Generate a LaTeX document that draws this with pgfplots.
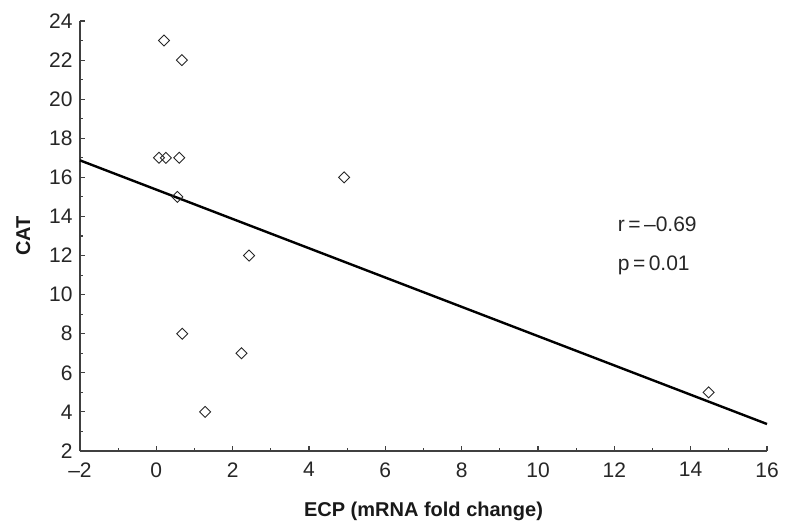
\documentclass[border=0pt]{standalone}
\usepackage{pgfplots}
\pgfplotsset{compat=1.18}
\usepackage{fontspec}
\setmainfont{Liberation Sans}
\begin{document}
\begin{tikzpicture}
\begin{axis}[
    scale only axis,
    width=687pt, height=430pt,
    xmin=-2, xmax=16, ymin=2, ymax=24,
    axis x line*=bottom, axis y line*=left,
    axis line style={black!75, line width=1.1pt},
    xtick={-2,0,...,16},
    xticklabels={\textendash 2,0,2,4,6,8,10,12,14,16},
    ytick={2,4,...,24},
    minor x tick num=1, minor y tick num=1,
    tick align=inside,
    major tick length=5pt, minor tick length=3pt,
    tick style={black!75, line width=1.1pt},
    /pgf/number format/assume math mode=true,
    ticklabel style={font=\fontsize{21}{23}\selectfont, text=black!85},
    xticklabel style={yshift=-8pt},
    yticklabel style={xshift=-4pt},
    xlabel={\textbf{ECP (mRNA fold change)}},
    ylabel={\textbf{CAT}},
    label style={font=\fontsize{20}{22}\selectfont, text=black!90},
    xlabel style={yshift=-18pt},
    ylabel style={yshift=12pt},
    clip=false,
]
\addplot[black, line width=2.4pt] coordinates {(-2,16.87) (16,3.38)};
\addplot[only marks, mark=square, mark size=3.9pt,
    mark options={rotate=45, draw=black!85, fill=white, line width=0.9pt}]
table{%
x y
0.2 23
0.67 22
0.07 17
0.25 17
0.6 17
0.55 15
4.92 16
2.43 12
0.68 8
2.23 7
1.28 4
14.47 5
};
\node[anchor=west, font=\fontsize{21}{23}\selectfont, text=black!85] at (axis cs:12.0,13.6) {r\,=\,\textendash 0.69};
\node[anchor=west, font=\fontsize{21}{23}\selectfont, text=black!85] at (axis cs:12.0,11.5) {p\,=\,0.01};
\end{axis}
\path ([shift={(-80pt,-72pt)}]current axis.south west) rectangle ([shift={(22pt,21pt)}]current axis.north east);
\end{tikzpicture}
\end{document}
